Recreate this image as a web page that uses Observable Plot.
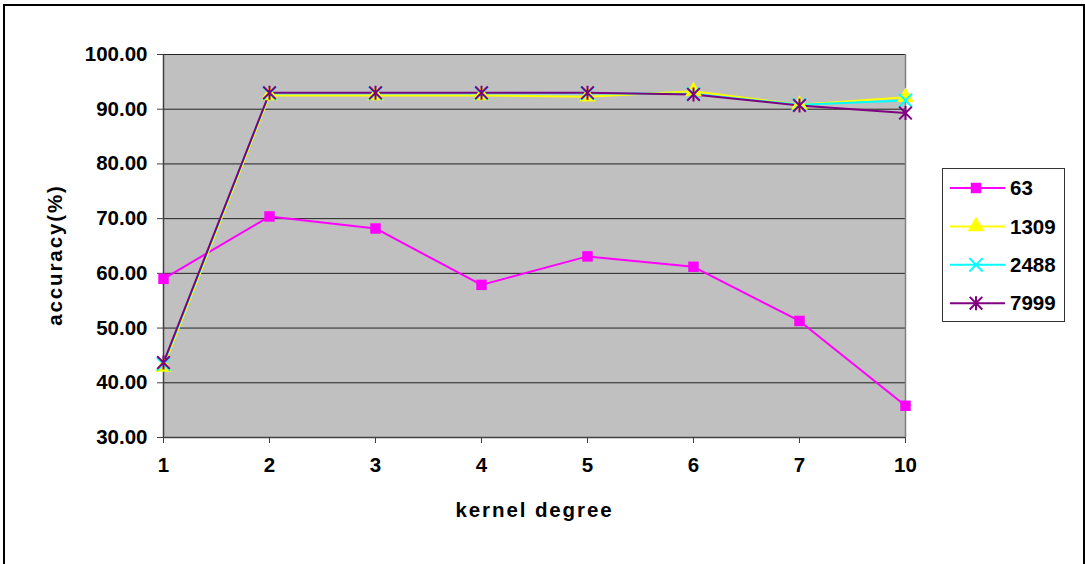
<!DOCTYPE html>
<html>
<head>
<meta charset="utf-8">
<script src="https://cdn.jsdelivr.net/npm/d3@7"></script>
<script src="https://cdn.jsdelivr.net/npm/@observablehq/plot@0.6"></script>
<style>
  body { margin: 0; background: #fff; }
  #wrap { position: relative; width: 1085px; height: 564px; overflow: hidden; background: #fff;
          font-family: "Liberation Sans", Arial, sans-serif; }
  #border { position: absolute; left: 3px; top: 4px; width: 1082px; height: 620px;
            border: 2px solid #000; box-sizing: border-box; }
  #chart { position: absolute; left: 0; top: 0; }
  #legend { position: absolute; left: 942px; top: 168px; }
</style>
</head>
<body>
<div id="wrap">
  <div id="border"></div>
  <div id="chart"></div>
  <div id="legend"></div>
</div>
<script>
// ---- data ----
const degrees = ["1", "2", "3", "4", "5", "6", "7", "10"];
const seriesNames = ["63", "1309", "2488", "7999"];
const acc63   = [59.0, 70.4, 68.2, 57.9, 63.1, 61.2, 51.3, 35.8];
const acc1309 = [42.9, 92.5, 92.5, 92.5, 92.3, 93.3, 90.8, 92.2];
const acc2488 = [43.4, 92.9, 92.9, 92.9, 92.9, 92.8, 90.8, 91.6];
const acc7999 = [43.7, 93.0, 93.0, 93.0, 93.0, 92.7, 90.7, 89.3];
const seriesColors = ["#FF00FF", "#FFFF00", "#00FFFF", "#800080"];
const seriesSymbols = ["square", "triangle", "times", "star"];
const yTicks = [30, 40, 50, 60, 70, 80, 90, 100];
const xTitle = "kernel degree";
const yTitle = "accuracy(%)";

const allValues = [acc63, acc1309, acc2488, acc7999];
const rows = seriesNames.flatMap((s, i) =>
  degrees.map((d, j) => ({ series: s, degree: d, acc: allValues[i][j] })));

const font = "'Liberation Sans', Arial, sans-serif";

// Excel-style star marker: an X plus a vertical bar
const symbolStar = {
  draw(context, size) {
    const r = Math.sqrt(size / Math.PI);
    const k = r * 0.9;
    context.moveTo(-k, -k); context.lineTo(k, k);
    context.moveTo(-k, k); context.lineTo(k, -k);
    context.moveTo(0, -r); context.lineTo(0, r);
  }
};
const symTypes = { square: d3.symbolSquare, triangle: d3.symbolTriangle, times: d3.symbolTimes, star: symbolStar };
const symR = { square: 5.9, triangle: 6.2, times: 6.1, star: 7 };

function dotsFor(i) {
  const data = rows.filter(r => r.series === seriesNames[i]);
  const sym = seriesSymbols[i];
  const filled = sym === "square" || sym === "triangle";
  return Plot.dot(data, {
    x: "degree", y: "acc", symbol: () => symTypes[sym],
    r: symR[sym],
    fill: filled ? seriesColors[i] : "none",
    stroke: filled ? "none" : seriesColors[i],
    strokeWidth: 2
  });
}

const chart = Plot.plot({
  width: 1085,
  height: 564,
  marginLeft: 163,
  marginRight: 180,
  marginTop: 54,
  marginBottom: 127,
  style: { fontFamily: font, fontSize: "20.5px", fontWeight: "bold", color: "#000",
           background: "transparent", overflow: "visible" },
  x: { type: "point", domain: degrees, padding: 0, label: null },
  y: { domain: [30, 100], ticks: yTicks, label: null },
  color: { domain: seriesNames, range: seriesColors },
  marks: [
    Plot.frame({ fill: "#C0C0C0", stroke: null }),
    Plot.gridY(yTicks, { stroke: "#222", strokeOpacity: 1, strokeWidth: 1 }),
    Plot.ruleX([degrees[degrees.length - 1]], { stroke: "#808080", strokeWidth: 1.5 }),
    Plot.ruleX([degrees[0]], { stroke: "#404040", strokeWidth: 1.5 }),
    Plot.ruleY([30], { stroke: "#404040", strokeWidth: 1.5 }),
    Plot.axisY({ ticks: yTicks, tickFormat: d3.format(".2f"), tickSize: 6, tickPadding: 10,
                 label: null, stroke: "#404040" }),
    Plot.axisX({ tickSize: 6, tickPadding: 14, label: null, stroke: "#404040" }),
    Plot.line(rows, { x: "degree", y: "acc", z: "series", stroke: "series", strokeWidth: 2 }),
    dotsFor(0), dotsFor(1), dotsFor(2), dotsFor(3),
    Plot.text([xTitle], { frameAnchor: "bottom", dy: 73, text: d => d, lineAnchor: "middle",
                          fontSize: 20.5, fontWeight: "bold", fill: "#000" }),
    Plot.text([yTitle], { frameAnchor: "left", dx: -108, dy: 9, rotate: -90, text: d => d,
                          lineAnchor: "middle", textAnchor: "middle",
                          fontSize: 20.5, fontWeight: "bold", fill: "#000" })
  ]
});
document.getElementById("chart").appendChild(chart);
// letter spacing for axis titles
d3.select(chart).selectAll("text").filter(function () {
  const t = this.textContent; return t === xTitle || t === yTitle;
}).style("letter-spacing", "1.9px");

// ---- legend ----
const lw = 123, lh = 154;
const legend = d3.select("#legend").append("svg").attr("width", lw).attr("height", lh)
  .style("font-family", font);
legend.append("rect").attr("x", 0.5).attr("y", 0.5).attr("width", lw - 1).attr("height", lh - 1)
  .attr("fill", "#fff").attr("stroke", "#333");
const item = legend.selectAll("g.item").data(seriesNames).join("g")
  .attr("transform", (d, i) => `translate(0,${20 + i * 38.4})`);
item.append("line").attr("x1", 8).attr("x2", 63).attr("y1", 0).attr("y2", 0)
  .attr("stroke", (d, i) => seriesColors[i]).attr("stroke-width", 2);
item.append("path")
  .attr("transform", "translate(34,0)")
  .attr("d", (d, i) => d3.symbol(symTypes[seriesSymbols[i]], Math.PI * symR[seriesSymbols[i]] ** 2)())
  .attr("fill", (d, i) => (i < 2 ? seriesColors[i] : "none"))
  .attr("stroke", (d, i) => (i < 2 ? "none" : seriesColors[i]))
  .attr("stroke-width", 2);
item.append("text").attr("x", 68).attr("y", 0).attr("dy", "0.35em")
  .attr("font-size", 20.5).attr("font-weight", "bold").attr("fill", "#000")
  .text(d => d);
</script>
</body>
</html>
